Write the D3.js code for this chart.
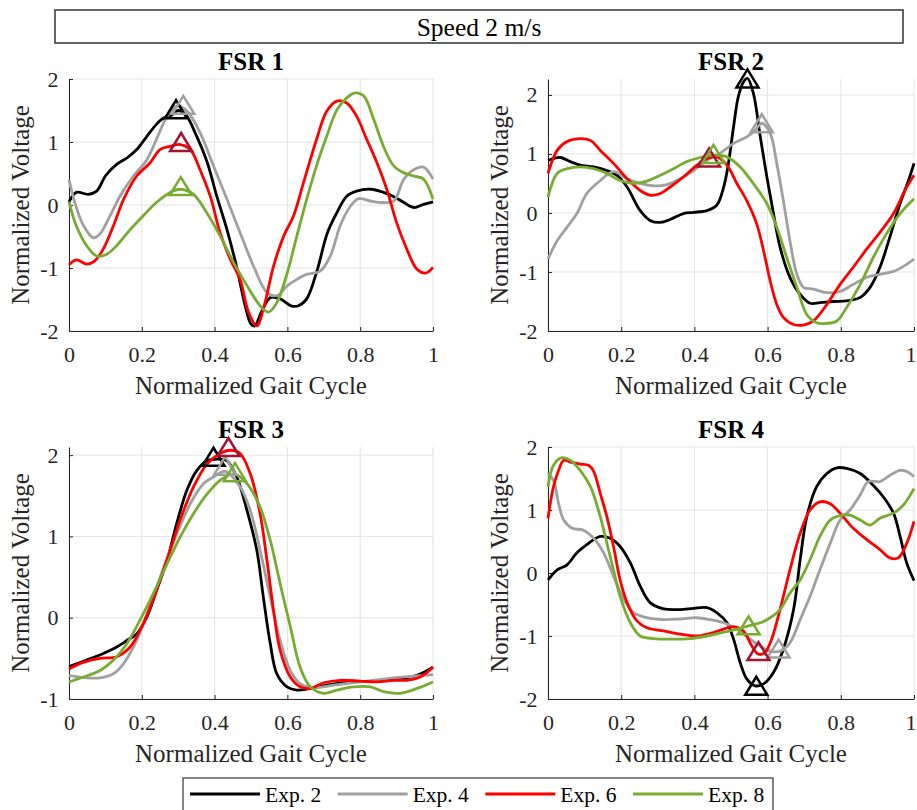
<!DOCTYPE html>
<html>
<head>
<meta charset="utf-8">
<script src="https://cdn.jsdelivr.net/npm/d3@7"></script>
<style>
  body { margin: 0; background: #fff; }
  svg text { font-family: "Liberation Serif", "Times New Roman", serif; }
</style>
</head>
<body>
<div id="chart"></div>
<script>
// ---- data: [gait cycle, normalized voltage] ----
const seriesNames = ["Exp. 2", "Exp. 4", "Exp. 6", "Exp. 8"];
const panelTitles = ["FSR 1", "FSR 2", "FSR 3", "FSR 4"];
const xTickValues = [0, 0.2, 0.4, 0.6, 0.8, 1];
const yDomains = [[-2, 2], [-2, 2.27], [-1, 2.1], [-2, 2]];
const yTickValues = [[-2, -1, 0, 1, 2], [-2, -1, 0, 1, 2], [-1, 0, 1, 2], [-2, -1, 0, 1, 2]];

const fsr1Exp2 = [[0,0.05],[0.02,0.2],[0.053,0.17],[0.076,0.22],[0.1,0.46],[0.13,0.64],[0.16,0.75],[0.186,0.88],[0.214,1.09],[0.24,1.28],[0.26,1.38],[0.28,1.42],[0.3,1.5],[0.322,1.42],[0.35,1.1],[0.38,0.67],[0.406,0.14],[0.434,-0.39],[0.46,-0.97],[0.484,-1.6],[0.5,-1.89],[0.51,-1.92],[0.53,-1.68],[0.553,-1.47],[0.58,-1.49],[0.61,-1.6],[0.63,-1.6],[0.653,-1.49],[0.68,-1.07],[0.71,-0.44],[0.736,-0.12],[0.763,0.14],[0.79,0.22],[0.83,0.25],[0.864,0.2],[0.89,0.14],[0.92,0.04],[0.947,-0.04],[0.974,0.01],[1,0.05]];
const fsr1Exp4 = [[0,0.4],[0.016,0.04],[0.04,-0.33],[0.067,-0.52],[0.085,-0.46],[0.113,-0.17],[0.14,0.14],[0.177,0.46],[0.214,0.72],[0.24,1.04],[0.27,1.41],[0.296,1.57],[0.324,1.49],[0.36,1.15],[0.397,0.62],[0.434,0.09],[0.47,-0.44],[0.507,-0.97],[0.544,-1.39],[0.571,-1.44],[0.6,-1.28],[0.626,-1.18],[0.653,-1.1],[0.69,-1.05],[0.718,-0.81],[0.745,-0.33],[0.773,-0.02],[0.796,0.1],[0.83,0.06],[0.864,0.04],[0.892,0.06],[0.92,0.41],[0.947,0.56],[0.974,0.6],[1,0.41]];
const fsr1Exp6 = [[0,-0.95],[0.02,-0.87],[0.049,-0.94],[0.07,-0.89],[0.094,-0.7],[0.122,-0.33],[0.15,0.09],[0.186,0.46],[0.223,0.67],[0.25,0.88],[0.278,0.93],[0.305,0.96],[0.333,0.88],[0.36,0.56],[0.388,0.14],[0.415,-0.44],[0.443,-0.86],[0.47,-1.18],[0.493,-1.7],[0.516,-1.92],[0.534,-1.65],[0.562,-0.97],[0.59,-0.49],[0.617,-0.17],[0.644,0.35],[0.68,1.04],[0.708,1.49],[0.736,1.65],[0.763,1.62],[0.79,1.41],[0.818,1.04],[0.846,0.67],[0.873,0.25],[0.9,-0.28],[0.928,-0.7],[0.956,-1.02],[0.98,-1.08],[1,-0.99]];
const fsr1Exp8 = [[0,0.05],[0.02,-0.33],[0.049,-0.65],[0.076,-0.81],[0.104,-0.78],[0.13,-0.65],[0.168,-0.39],[0.204,-0.17],[0.24,0.04],[0.278,0.2],[0.305,0.25],[0.342,0.17],[0.378,-0.12],[0.415,-0.49],[0.452,-0.91],[0.489,-1.28],[0.525,-1.6],[0.548,-1.7],[0.571,-1.55],[0.6,-1.07],[0.626,-0.49],[0.653,0.09],[0.68,0.62],[0.708,1.09],[0.736,1.51],[0.763,1.7],[0.786,1.78],[0.81,1.73],[0.837,1.36],[0.864,0.93],[0.892,0.62],[0.92,0.51],[0.947,0.46],[0.974,0.41],[1,0.09]];

const fsr2Exp2 = [[0,0.89],[0.034,0.94],[0.061,0.87],[0.088,0.81],[0.125,0.78],[0.161,0.72],[0.188,0.64],[0.216,0.44],[0.252,0.04],[0.28,-0.13],[0.307,-0.16],[0.334,-0.11],[0.37,-0.01],[0.398,0.01],[0.434,0.04],[0.461,0.13],[0.48,0.44],[0.493,0.84],[0.507,1.46],[0.52,1.97],[0.534,2.22],[0.545,2.28],[0.561,2.03],[0.58,1.29],[0.598,0.61],[0.616,-0.01],[0.634,-0.58],[0.661,-1.09],[0.689,-1.38],[0.716,-1.53],[0.743,-1.52],[0.78,-1.5],[0.816,-1.49],[0.853,-1.43],[0.88,-1.26],[0.907,-0.92],[0.934,-0.41],[0.962,0.16],[0.985,0.55],[1,0.84]];
const fsr2Exp4 = [[0,-0.78],[0.025,-0.47],[0.052,-0.24],[0.079,-0.01],[0.106,0.33],[0.143,0.55],[0.179,0.7],[0.216,0.58],[0.252,0.5],[0.288,0.46],[0.325,0.48],[0.361,0.58],[0.398,0.72],[0.434,0.89],[0.47,1.01],[0.507,1.18],[0.543,1.29],[0.566,1.4],[0.584,1.52],[0.607,1.35],[0.625,0.84],[0.643,0.21],[0.661,-0.47],[0.68,-1.04],[0.698,-1.26],[0.725,-1.29],[0.762,-1.35],[0.798,-1.33],[0.834,-1.21],[0.871,-1.09],[0.907,-1.04],[0.944,-0.99],[0.98,-0.87],[1,-0.78]];
const fsr2Exp6 = [[0,0.67],[0.025,1.06],[0.052,1.21],[0.088,1.26],[0.116,1.23],[0.143,1.06],[0.179,0.84],[0.216,0.58],[0.252,0.38],[0.28,0.3],[0.307,0.33],[0.334,0.44],[0.37,0.61],[0.407,0.81],[0.434,0.92],[0.461,0.95],[0.489,0.81],[0.516,0.5],[0.543,0.21],[0.57,-0.18],[0.589,-0.64],[0.607,-1.15],[0.625,-1.55],[0.643,-1.77],[0.671,-1.89],[0.698,-1.9],[0.725,-1.83],[0.762,-1.55],[0.798,-1.21],[0.834,-0.92],[0.871,-0.61],[0.907,-0.33],[0.944,-0.01],[0.98,0.44],[1,0.64]];
const fsr2Exp8 = [[0,0.27],[0.025,0.67],[0.052,0.75],[0.088,0.78],[0.125,0.75],[0.161,0.67],[0.197,0.55],[0.234,0.5],[0.27,0.54],[0.307,0.64],[0.343,0.75],[0.379,0.87],[0.416,0.94],[0.452,0.98],[0.489,0.95],[0.525,0.78],[0.561,0.5],[0.598,0.16],[0.625,-0.24],[0.652,-0.75],[0.68,-1.26],[0.707,-1.72],[0.734,-1.86],[0.762,-1.87],[0.789,-1.83],[0.816,-1.6],[0.853,-1.21],[0.889,-0.75],[0.925,-0.35],[0.962,-0.01],[1,0.24]];

const fsr3Exp2 = [[0,-0.6],[0.049,-0.52],[0.094,-0.44],[0.131,-0.36],[0.159,-0.28],[0.186,-0.2],[0.214,0.01],[0.241,0.34],[0.269,0.7],[0.296,1.16],[0.324,1.57],[0.351,1.81],[0.379,1.93],[0.406,1.95],[0.434,1.93],[0.461,1.73],[0.489,1.32],[0.516,0.83],[0.534,0.25],[0.553,-0.32],[0.571,-0.69],[0.599,-0.85],[0.626,-0.89],[0.663,-0.87],[0.709,-0.83],[0.773,-0.79],[0.837,-0.78],[0.91,-0.75],[0.956,-0.71],[1,-0.61]];
const fsr3Exp4 = [[0,-0.71],[0.049,-0.74],[0.085,-0.74],[0.122,-0.69],[0.149,-0.57],[0.177,-0.36],[0.204,-0.07],[0.232,0.25],[0.26,0.62],[0.296,1.03],[0.333,1.4],[0.37,1.65],[0.397,1.73],[0.429,1.8],[0.47,1.61],[0.498,1.32],[0.525,0.83],[0.553,0.25],[0.58,-0.28],[0.608,-0.65],[0.635,-0.81],[0.672,-0.86],[0.727,-0.83],[0.8,-0.79],[0.874,-0.75],[0.947,-0.72],[1,-0.7]];
const fsr3Exp6 = [[0,-0.63],[0.039,-0.55],[0.085,-0.5],[0.131,-0.48],[0.168,-0.36],[0.195,-0.16],[0.223,0.13],[0.25,0.46],[0.278,0.83],[0.305,1.2],[0.342,1.61],[0.379,1.89],[0.415,2.02],[0.443,2.06],[0.47,2.02],[0.498,1.77],[0.525,1.28],[0.544,0.7],[0.562,0.09],[0.58,-0.4],[0.608,-0.73],[0.635,-0.85],[0.663,-0.87],[0.7,-0.8],[0.745,-0.77],[0.8,-0.78],[0.846,-0.79],[0.892,-0.77],[0.928,-0.77],[0.965,-0.73],[1,-0.61]];
const fsr3Exp8 = [[0,-0.79],[0.039,-0.73],[0.085,-0.65],[0.122,-0.52],[0.159,-0.32],[0.195,-0.03],[0.232,0.3],[0.269,0.66],[0.305,0.99],[0.342,1.28],[0.379,1.52],[0.415,1.69],[0.452,1.77],[0.489,1.65],[0.525,1.36],[0.553,0.95],[0.58,0.42],[0.608,-0.11],[0.635,-0.61],[0.663,-0.85],[0.7,-0.93],[0.736,-0.89],[0.782,-0.85],[0.828,-0.85],[0.864,-0.91],[0.91,-0.93],[0.956,-0.87],[1,-0.79]];

const fsr4Exp2 = [[0,-0.11],[0.025,0.05],[0.052,0.13],[0.079,0.32],[0.106,0.45],[0.143,0.58],[0.17,0.55],[0.197,0.42],[0.225,0.16],[0.252,-0.21],[0.279,-0.47],[0.316,-0.57],[0.361,-0.58],[0.398,-0.56],[0.434,-0.55],[0.461,-0.63],[0.489,-0.79],[0.507,-1.05],[0.525,-1.42],[0.543,-1.68],[0.566,-1.79],[0.589,-1.76],[0.616,-1.58],[0.643,-1.21],[0.671,-0.58],[0.689,0.21],[0.707,0.89],[0.734,1.37],[0.762,1.58],[0.789,1.67],[0.816,1.66],[0.853,1.58],[0.889,1.39],[0.916,1.21],[0.944,0.95],[0.962,0.58],[0.98,0.16],[1,-0.12]];
const fsr4Exp4 = [[0,1.58],[0.015,1.47],[0.029,1.1],[0.043,0.84],[0.066,0.71],[0.097,0.68],[0.125,0.55],[0.152,0.32],[0.179,-0.05],[0.207,-0.42],[0.234,-0.63],[0.27,-0.71],[0.316,-0.74],[0.361,-0.73],[0.407,-0.71],[0.443,-0.74],[0.48,-0.79],[0.516,-0.89],[0.552,-1.05],[0.58,-1.16],[0.607,-1.24],[0.634,-1.24],[0.661,-1.11],[0.689,-0.74],[0.716,-0.37],[0.743,0.05],[0.771,0.47],[0.798,0.84],[0.825,1.0],[0.853,1.24],[0.875,1.45],[0.907,1.45],[0.934,1.55],[0.962,1.63],[0.98,1.61],[1,1.53]];
const fsr4Exp6 = [[0,0.87],[0.015,1.37],[0.029,1.63],[0.043,1.79],[0.061,1.76],[0.088,1.73],[0.111,1.71],[0.125,1.61],[0.143,1.26],[0.161,0.89],[0.179,0.42],[0.197,-0.11],[0.216,-0.47],[0.243,-0.76],[0.27,-0.87],[0.316,-0.92],[0.361,-0.97],[0.407,-1.0],[0.443,-0.96],[0.48,-0.89],[0.507,-0.85],[0.534,-0.92],[0.557,-1.16],[0.575,-1.29],[0.593,-1.26],[0.611,-1.05],[0.634,-0.58],[0.661,0.05],[0.689,0.63],[0.716,1.0],[0.743,1.13],[0.771,1.1],[0.798,0.95],[0.834,0.71],[0.871,0.53],[0.907,0.37],[0.934,0.24],[0.957,0.24],[0.98,0.47],[1,0.82]];
const fsr4Exp8 = [[0,1.37],[0.015,1.71],[0.038,1.83],[0.061,1.79],[0.088,1.63],[0.116,1.37],[0.143,0.89],[0.161,0.47],[0.179,0.05],[0.197,-0.37],[0.225,-0.79],[0.252,-1.0],[0.288,-1.04],[0.334,-1.05],[0.389,-1.04],[0.434,-1.0],[0.48,-0.94],[0.516,-0.89],[0.548,-0.84],[0.58,-0.79],[0.607,-0.71],[0.634,-0.58],[0.661,-0.32],[0.689,-0.11],[0.716,0.21],[0.743,0.58],[0.771,0.84],[0.798,0.91],[0.825,0.92],[0.853,0.84],[0.88,0.76],[0.907,0.87],[0.944,0.95],[0.971,1.08],[1,1.34]];

// triangle markers (peak / valley picked per experiment)
const fsr1Peaks = [[0.294,1.52],[0.314,1.59],[0.308,1.0],[0.307,0.3]];
const fsr2Peaks = [[0.545,2.28],[0.584,1.52],[0.44,0.94],[0.452,1.0]];
const fsr3Peaks = [[0.397,1.98],[0.429,1.87],[0.438,2.1],[0.456,1.79]];
const fsr4Peaks = [[0.569,-1.79],[0.63,-1.2],[0.575,-1.24],[0.548,-0.83]];

const panelSeries = [
  [fsr1Exp2, fsr1Exp4, fsr1Exp6, fsr1Exp8],
  [fsr2Exp2, fsr2Exp4, fsr2Exp6, fsr2Exp8],
  [fsr3Exp2, fsr3Exp4, fsr3Exp6, fsr3Exp8],
  [fsr4Exp2, fsr4Exp4, fsr4Exp6, fsr4Exp8],
];
const panelPeaks = [fsr1Peaks, fsr2Peaks, fsr3Peaks, fsr4Peaks];

// ---- styling / layout ----
const width = 917;
const height = 810;
const lineColors = ["#000000", "#a0a0a0", "#ff0000", "#77ac30"];
const markerColors = ["#000000", "#a0a0a0", "#a2142f", "#77ac30"];
const axisColor = "#262626";
const gridColor = "#e3e3e3";
const boxes = [
  { left: 69, right: 433, top: 79, bottom: 331 },
  { left: 548, right: 914, top: 79, bottom: 331 },
  { left: 69, right: 433, top: 447, bottom: 699 },
  { left: 548, right: 914, top: 447, bottom: 699 },
];

const svg = d3
  .select("#chart")
  .append("svg")
  .attr("width", width)
  .attr("height", height)
  .attr("font-family", "Liberation Serif, serif");

svg.append("rect").attr("width", width).attr("height", height).attr("fill", "#fff");

// header box
svg
  .append("rect")
  .attr("x", 55)
  .attr("y", 10)
  .attr("width", 848)
  .attr("height", 33)
  .attr("fill", "#fff")
  .attr("stroke", "#333")
  .attr("stroke-width", 1.5);

svg
  .append("text")
  .attr("x", 479)
  .attr("y", 36)
  .attr("text-anchor", "middle")
  .attr("font-size", 25.5)
  .attr("fill", "#000")
  .text("Speed 2 m/s");

const triangle = (w, h) => `M0,${-h / 2}L${w / 2},${h / 2}L${-w / 2},${h / 2}Z`;

const drawPanel = (i) => {
  const box = boxes[i];
  const x = d3.scaleLinear().domain([0, 1]).range([box.left, box.right]);
  const y = d3.scaleLinear().domain(yDomains[i]).range([box.bottom, box.top]);
  const g = svg.append("g");

  // grid
  g.append("g")
    .selectAll("line")
    .data(xTickValues)
    .join("line")
    .attr("x1", (d) => x(d))
    .attr("x2", (d) => x(d))
    .attr("y1", box.top)
    .attr("y2", box.bottom)
    .attr("stroke", gridColor);

  g.append("g")
    .selectAll("line")
    .data(yTickValues[i])
    .join("line")
    .attr("x1", box.left)
    .attr("x2", box.right)
    .attr("y1", (d) => y(d))
    .attr("y2", (d) => y(d))
    .attr("stroke", gridColor);

  // axes, ticks pointing inward like MATLAB
  const xAxis = d3
    .axisBottom(x)
    .tickValues(xTickValues)
    .tickFormat((d) => String(d))
    .tickSizeInner(-4)
    .tickSizeOuter(0)
    .tickPadding(15);

  const yAxis = d3
    .axisLeft(y)
    .tickValues(yTickValues[i])
    .tickFormat((d) => String(d))
    .tickSizeInner(-4)
    .tickSizeOuter(0)
    .tickPadding(10.5);

  const xg = g.append("g").attr("transform", `translate(0, ${box.bottom})`).call(xAxis);
  const yg = g.append("g").attr("transform", `translate(${box.left}, 0)`).call(yAxis);

  [xg, yg].forEach((a) => {
    a.attr("font-family", null);
    a.select(".domain").attr("stroke", axisColor);
    a.selectAll(".tick line").attr("stroke", axisColor);
    a.selectAll(".tick text").attr("fill", axisColor).attr("font-size", 22);
  });

  // the last x label sits on the page edge on the right column: keep it inside
  if (box.right > width - 8) {
    xg.selectAll(".tick text")
      .filter((d) => d === 1)
      .attr("text-anchor", "end")
      .attr("x", width - 1 - box.right);
  }

  // curves
  const line = d3
    .line()
    .x((d) => x(d[0]))
    .y((d) => y(d[1]))
    .curve(d3.curveCatmullRom.alpha(0.5));

  g.append("g")
    .selectAll("path")
    .data(panelSeries[i])
    .join("path")
    .attr("d", line)
    .attr("fill", "none")
    .attr("stroke", (d, k) => lineColors[k])
    .attr("stroke-width", 2.8)
    .attr("stroke-linejoin", "round");

  g.append("g")
    .selectAll("path")
    .data(panelPeaks[i])
    .join("path")
    .attr("d", triangle(22, 18))
    .attr("transform", (d) => `translate(${x(d[0])}, ${y(d[1])})`)
    .attr("fill", "none")
    .attr("stroke", (d, k) => markerColors[k])
    .attr("stroke-width", 2.5)
    .attr("stroke-linejoin", "miter");

  // labels
  const cx = (box.left + box.right) / 2;
  const cy = (box.top + box.bottom) / 2;

  g.append("text")
    .attr("x", cx)
    .attr("y", box.top - 9.5)
    .attr("text-anchor", "middle")
    .attr("font-size", 25)
    .attr("font-weight", "bold")
    .attr("fill", "#000")
    .text(panelTitles[i]);

  g.append("text")
    .attr("x", cx)
    .attr("y", box.bottom + 62.5)
    .attr("text-anchor", "middle")
    .attr("font-size", 25)
    .attr("fill", axisColor)
    .text("Normalized Gait Cycle");

  g.append("text")
    .attr("transform", `translate(${box.left - 40}, ${cy}) rotate(-90)`)
    .attr("text-anchor", "middle")
    .attr("font-size", 25)
    .attr("fill", axisColor)
    .text("Normalized Voltage");
};

panelTitles.forEach((t, i) => drawPanel(i));

// legend at the bottom
const legend = svg.append("g");
legend
  .append("rect")
  .attr("x", 183)
  .attr("y", 778)
  .attr("width", 590)
  .attr("height", 45)
  .attr("fill", "#fff")
  .attr("stroke", "#333")
  .attr("stroke-width", 1.2);

const legendX = d3.scaleLinear().domain([0, 3]).range([190, 633]);

const items = legend
  .selectAll("g.item")
  .data(seriesNames)
  .join("g")
  .attr("class", "item")
  .attr("transform", (d, k) => `translate(${legendX(k)}, 0)`);

items
  .append("line")
  .attr("x1", 0)
  .attr("x2", 70)
  .attr("y1", 794)
  .attr("y2", 794)
  .attr("stroke", (d, k) => lineColors[k])
  .attr("stroke-width", 3);

items
  .append("text")
  .attr("x", 75)
  .attr("y", 801.5)
  .attr("font-size", 21.5)
  .attr("fill", "#000")
  .text((d) => d);
</script>
</body>
</html>
